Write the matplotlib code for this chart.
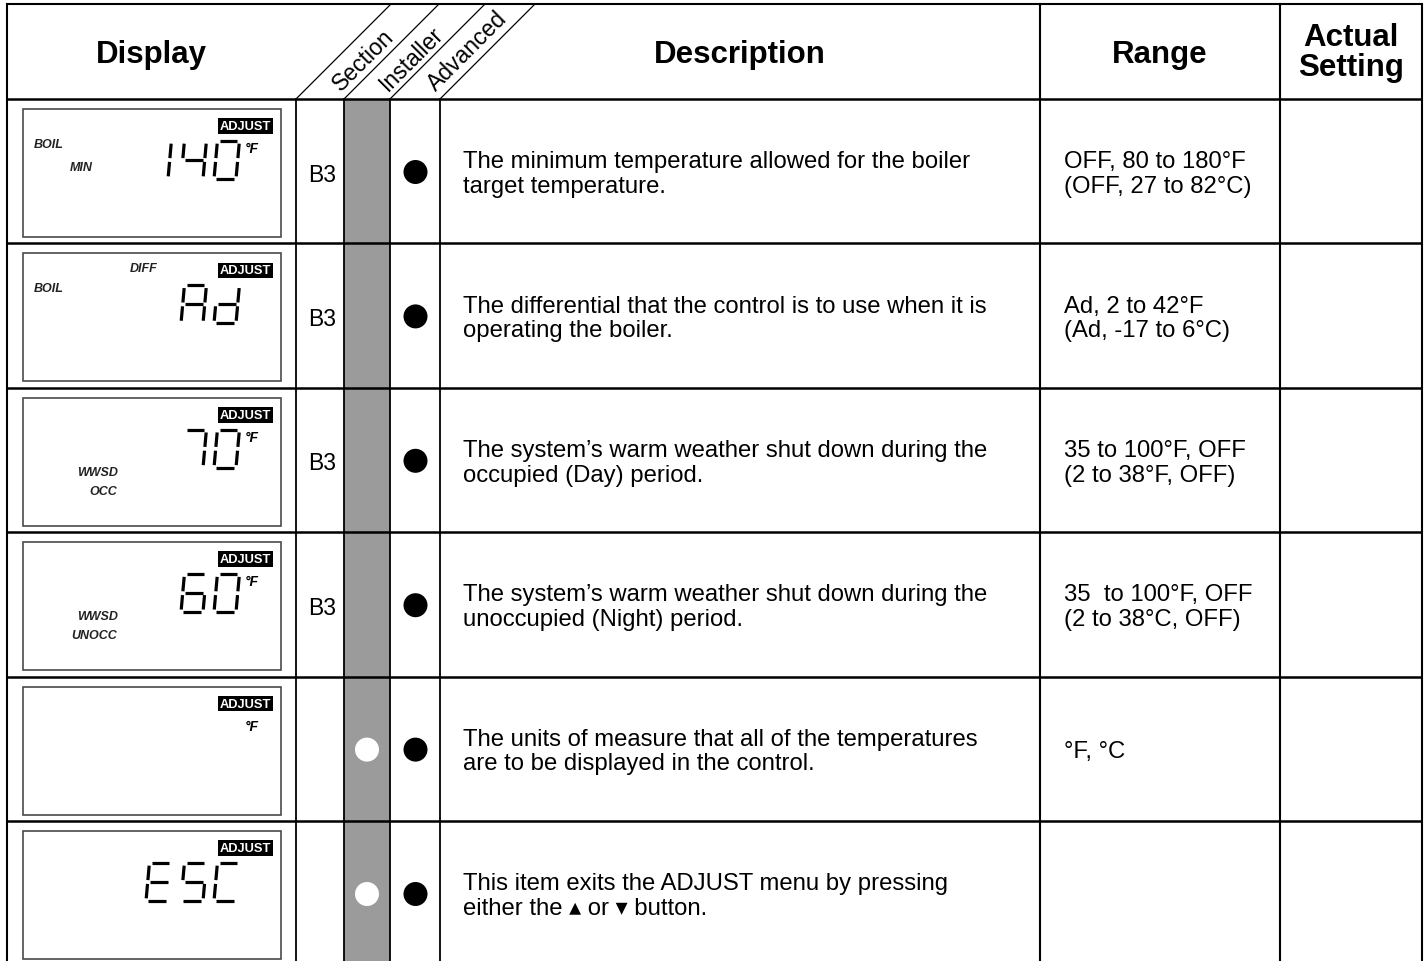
import matplotlib
matplotlib.use("Agg")
from matplotlib import pyplot as plt
from matplotlib.patches import Rectangle, Circle

plt.rcParams['font.family'] = ['Liberation Sans', 'DejaVu Sans']

# table content
headers = ["Display", "Description", "Range", "Actual\nSetting"]
side_headers = ["Section", "Installer", "Advanced"]

lcd_text = ["140", "Ad", "70", "60", "", "ESC"]
lcd_labels = [["BOIL", "MIN"], ["DIFF", "BOIL"], ["WWSD", "OCC"],
              ["WWSD", "UNOCC"], [], []]
lcd_deg_f = [True, False, True, True, True, False]
sections = ["B3", "B3", "B3", "B3", "", ""]
installer = [False, False, False, False, True, True]
advanced = [True, True, True, True, True, True]
descriptions = [
    "The minimum temperature allowed for the boiler\ntarget temperature.",
    "The differential that the control is to use when it is\noperating the boiler.",
    "The system\u2019s warm weather shut down during the\noccupied (Day) period.",
    "The system\u2019s warm weather shut down during the\nunoccupied (Night) period.",
    "The units of measure that all of the temperatures\nare to be displayed in the control.",
    "This item exits the ADJUST menu by pressing\neither the \u25B4 or \u25BE button.",
]
ranges = [
    "OFF, 80 to 180\u00b0F\n(OFF, 27 to 82\u00b0C)",
    "Ad, 2 to 42\u00b0F\n(Ad, -17 to 6\u00b0C)",
    "35 to 100\u00b0F, OFF\n(2 to 38\u00b0F, OFF)",
    "35  to 100\u00b0F, OFF\n(2 to 38\u00b0C, OFF)",
    "\u00b0F, \u00b0C",
    "",
]

# layout (pixels)
W, H = 1426, 962
x_left, x_right = 7, 1422
col_x = [296, 344, 390, 440, 1040, 1280]
top, head_bot = 5, 100
row_h = 144.4
body_fs = 17.2

# fixed spots of the LCD annunciators: x, offset from row top, alignment
annun = {"BOIL": (34, 45, "left"), "MIN": (70, 68, "left"),
         "DIFF": (130, 25, "left"), "WWSD": (118, 84, "right"),
         "OCC": (117, 103, "right"), "UNOCC": (117, 103, "right")}

SEGS = {"a": ((0.1, 0), (0.9, 0)), "b": ((1, 0.07), (1, 0.45)),
        "c": ((1, 0.55), (1, 0.93)), "d": ((0.1, 1), (0.9, 1)),
        "e": ((0, 0.55), (0, 0.93)), "f": ((0, 0.07), (0, 0.45)),
        "g": ((0.1, 0.5), (0.9, 0.5))}
CHARS = {"0": "abcdef", "1": "bc", "4": "fgbc", "6": "afgedc", "7": "abc",
         "A": "abcefg", "d": "bcdeg", "E": "afged", "S": "afgcd", "C": "afed"}

fig = plt.figure(figsize=(W / 100, H / 100), dpi=100)
ax = fig.add_axes([0, 0, 1, 1])
ax.set_xlim(0, W)
ax.set_ylim(H, 0)
ax.axis("off")

lw = 1.5
# gray installer column
ax.add_patch(Rectangle((col_x[1], head_bot), col_x[2] - col_x[1], H - head_bot,
                       facecolor="#9b9b9b", edgecolor="none"))

# outer frame and header
ax.plot([x_left, x_right], [top, top], color="black", lw=lw, solid_capstyle="butt")
ax.plot([x_left, x_right], [head_bot, head_bot], color="black", lw=lw + 0.3,
        solid_capstyle="butt")
for x in [x_left, x_right, col_x[4], col_x[5]]:
    ax.plot([x, x], [top, H], color="black", lw=lw)
for x in col_x[:4]:
    ax.plot([x, x], [head_bot, H], color="black", lw=lw - 0.2)
    ax.plot([x, x + (head_bot - top)], [head_bot, top], color="black", lw=0.9)

# header text
hx = [(x_left + col_x[0]) / 2, (col_x[3] + col_x[4]) / 2,
      (col_x[4] + col_x[5]) / 2, (col_x[5] + x_right) / 2]
for i, t in enumerate(headers):
    lines = t.split("\n")
    if len(lines) == 1:
        ax.text(hx[i], 63.5, t, ha="center", va="baseline", fontsize=22.5,
                fontweight="bold")
    else:
        for j, ln in enumerate(lines):
            ax.text(hx[i], 46 + 30 * j, ln, ha="center", va="baseline",
                    fontsize=22.5, fontweight="bold")

for i, t in enumerate(side_headers):
    xa, xb = col_x[i], col_x[i + 1]
    y0 = 87
    xc = (xa + xb) / 2 + (head_bot - y0)
    ax.text(xc + 3, y0, t, rotation=45, rotation_mode="anchor", ha="left",
            va="center", fontsize=16.5)


def draw_char(ch, x0, y0, w=22, h=38, sk=0.09):
    for s in CHARS.get(ch, ""):
        (ax1, ay1), (ax2, ay2) = SEGS[s]
        xs = [x0 + ax1 * w + sk * (1 - ay1) * h, x0 + ax2 * w + sk * (1 - ay2) * h]
        ys = [y0 + ay1 * h, y0 + ay2 * h]
        ax.plot(xs, ys, color="black", lw=2.3, solid_capstyle="butt")


cells = [146, 181, 214]

for r in range(len(lcd_text)):
    rt = head_bot + r * row_h
    if r > 0:
        ax.plot([x_left, x_right], [rt, rt], color="black", lw=lw + 0.3,
                solid_capstyle="butt")
    cy = rt + 73

    # LCD panel
    ax.add_patch(Rectangle((23, rt + 10), 258, 128, facecolor="white",
                           edgecolor="#4a4a4a", lw=1.2))
    ax.text(245.5, rt + 27, "ADJUST", ha="center", va="center", color="white",
            fontsize=9.3, fontweight="bold",
            bbox=dict(boxstyle="square,pad=0.14", fc="black", ec="none"))
    for lab in lcd_labels[r]:
        lx, ly, al = annun[lab]
        ax.text(lx, rt + ly, lab, ha=al, va="center", fontsize=9,
                fontweight="bold", fontstyle="italic", color="#222222")
    if lcd_deg_f[r]:
        ax.text(245, rt + 49, "\u00b0F", ha="left", va="center", fontsize=10,
                fontweight="bold", fontstyle="italic")
    txt = lcd_text[r]
    for k, ch in enumerate(txt):
        draw_char(ch, cells[len(cells) - len(txt) + k], rt + 42)

    # section / installer / advanced
    if sections[r]:
        ax.text(308, cy + 8.5, sections[r], ha="left", va="baseline", fontsize=16.5)
    if installer[r]:
        ax.add_patch(Circle((367, cy), 12, facecolor="white", edgecolor="none"))
    if advanced[r]:
        ax.add_patch(Circle((415.5, cy), 12, facecolor="black", edgecolor="none"))

    # description and range
    for col, txt2 in [(463, descriptions[r]), (1064, ranges[r])]:
        lines = [l for l in txt2.split("\n") if l]
        n = len(lines)
        for j, ln in enumerate(lines):
            base = cy + 7.5 + (j - (n - 1) / 2) * 24.5
            ax.text(col, base, ln, ha="left", va="baseline", fontsize=body_fs)

fig.savefig("out.png", dpi=100)
